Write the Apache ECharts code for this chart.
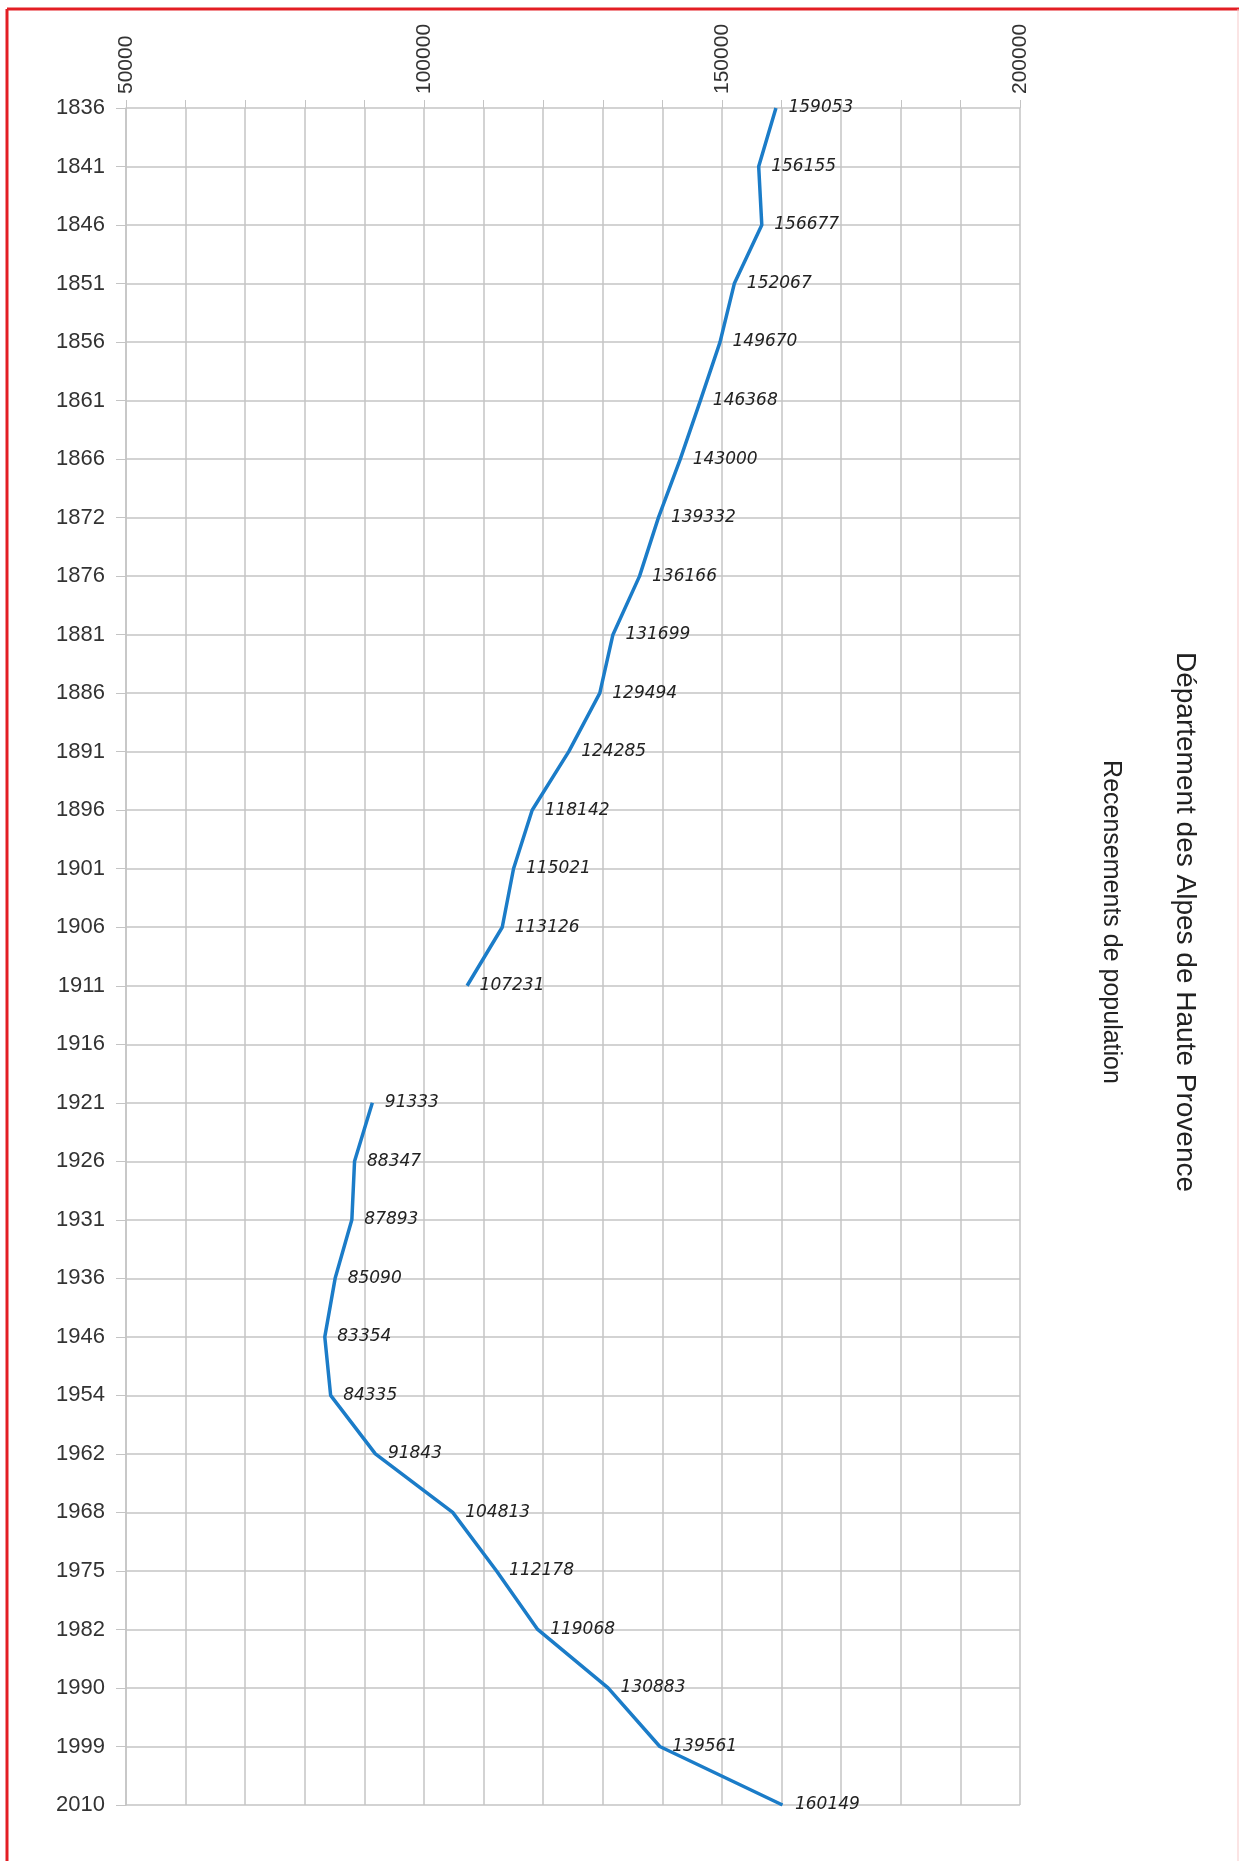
<!DOCTYPE html>
<html>
<head>
<meta charset="utf-8">
<script src="https://cdn.jsdelivr.net/npm/echarts@6/dist/echarts.min.js"></script>
<style>
html,body{margin:0;padding:0;background:#fff;}
#chart{width:1239px;height:1861px;}
</style>
</head>
<body>
<div id="chart"></div>
<script>
const years = ['1836','1841','1846','1851','1856','1861','1866','1872','1876','1881','1886','1891','1896','1901','1906','1911','1916','1921','1926','1931','1936','1946','1954','1962','1968','1975','1982','1990','1999','2010'];
const population = [159053,156155,156677,152067,149670,146368,143000,139332,136166,131699,129494,124285,118142,115021,113126,107231,null,91333,88347,87893,85090,83354,84335,91843,104813,112178,119068,130883,139561,160149];
const valueMin = 50000;
const valueMax = 200000;
const valueStep = 10000;
const labelStep = 50000;
const titleText = 'Département des Alpes de Haute Provence';
const subtitleText = 'Recensements de population';

const chart = echarts.init(document.getElementById('chart'));
chart.setOption({
  backgroundColor: '#ffffff',
  animation: false,
  grid: {left: 126, right: 219, top: 108, bottom: 56, containLabel: false},
  xAxis: {
    type: 'value',
    position: 'top',
    min: valueMin,
    max: valueMax,
    interval: valueStep,
    axisLine: {show: false},
    axisTick: {show: true, length: 8, lineStyle: {color: '#c4c4c4'}},
    axisLabel: {
      rotate: -90,
      margin: 14,
      fontFamily: 'Liberation Sans, Arial, sans-serif',
      fontSize: 21,
      color: '#333',
      formatter: v => (v % labelStep === 0 ? String(v) : '')
    },
    splitLine: {show: true, lineStyle: {color: '#c4c4c4', width: 1.5}}
  },
  yAxis: {
    type: 'category',
    data: years,
    inverse: true,
    boundaryGap: false,
    axisLine: {show: true, lineStyle: {color: '#c4c4c4', width: 1.5}},
    axisTick: {show: true, length: 10, alignWithLabel: true, lineStyle: {color: '#c4c4c4'}},
    axisLabel: {
      margin: 21,
      fontFamily: 'Liberation Sans, Arial, sans-serif',
      fontSize: 22,
      color: '#333',
      interval: 0
    },
    splitLine: {show: true, interval: 0, lineStyle: {color: '#c4c4c4', width: 1.5}}
  },
  series: [{
    type: 'line',
    data: population,
    connectNulls: false,
    showSymbol: true,
    symbol: 'circle',
    symbolSize: 1,
    itemStyle: {color: '#1b7cc8', opacity: 0},
    lineStyle: {color: '#1b7cc8', width: 3.5},
    label: {
      show: true,
      position: 'right',
      distance: 12,
      fontFamily: 'DejaVu Sans, sans-serif',
      fontStyle: 'italic',
      fontSize: 17,
      color: '#222',
      opacity: 1
    }
  }],
  graphic: [
    {type: 'line', shape: {x1: 7, y1: 9, x2: 1239, y2: 9}, style: {stroke: '#e31e24', lineWidth: 3}, silent: true},
    {type: 'line', shape: {x1: 7, y1: 9, x2: 7, y2: 1861}, style: {stroke: '#e31e24', lineWidth: 3}, silent: true},
    {type: 'line', shape: {x1: 1238, y1: 9, x2: 1238, y2: 1861}, style: {stroke: '#f6c9c9', lineWidth: 1}, silent: true},
    {
      type: 'text', x: 1185, y: 922, rotation: -Math.PI / 2,
      style: {text: titleText, font: '28px "Liberation Sans", Arial, sans-serif', fill: '#222', textAlign: 'center', textVerticalAlign: 'middle'}
    },
    {
      type: 'text', x: 1111, y: 922, rotation: -Math.PI / 2,
      style: {text: subtitleText, font: '25px "Liberation Sans", Arial, sans-serif', fill: '#222', textAlign: 'center', textVerticalAlign: 'middle'}
    }
  ]
});
</script>
</body>
</html>
